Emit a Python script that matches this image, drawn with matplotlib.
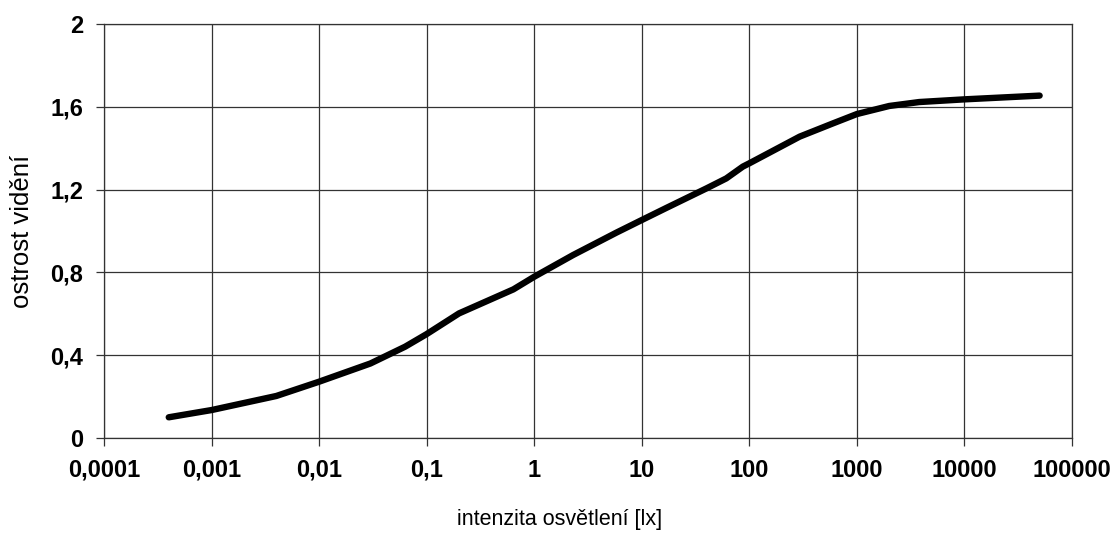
import matplotlib
matplotlib.use("Agg")
import matplotlib.pyplot as plt
from matplotlib.ticker import FixedLocator, NullLocator

# data
lux = [0.0004, 0.001, 0.004, 0.01, 0.03, 0.063, 0.1, 0.2, 0.64, 1, 2.3, 5.8,
       10, 17, 40, 61, 87, 100, 294, 600, 1000, 2000, 3800, 10000, 50000]
acuity = [0.10, 0.135, 0.203, 0.272, 0.36, 0.441, 0.502, 0.602, 0.718, 0.779,
          0.884, 0.992, 1.053, 1.112, 1.206, 1.254, 1.311, 1.327, 1.456, 1.52,
          1.565, 1.604, 1.623, 1.636, 1.654]
x_ticks = [1e-4, 1e-3, 1e-2, 1e-1, 1, 10, 100, 1000, 10000, 100000]
x_tick_labels = ["0,0001", "0,001", "0,01", "0,1", "1", "10", "100", "1000",
                 "10000", "100000"]
y_ticks = [0, 0.4, 0.8, 1.2, 1.6, 2]
y_tick_labels = ["0", "0,4", "0,8", "1,2", "1,6", "2"]

plt.rcParams['font.family'] = ['Liberation Sans', 'DejaVu Sans']

W, H = 1119, 538
fig = plt.figure(figsize=(W / 100, H / 100), dpi=100)
left, right, top, bottom = 104, 1072, 24, 438
ax = fig.add_axes([left / W, 1 - bottom / H, (right - left) / W, (bottom - top) / H])

ax.plot(lux, acuity, color='black', linewidth=4.6, solid_capstyle='round',
        solid_joinstyle='round', zorder=3)

ax.set_xscale('log')
ax.set_xlim(1e-4, 1e5)
ax.set_ylim(0, 2)
ax.xaxis.set_major_locator(FixedLocator(x_ticks))
ax.xaxis.set_minor_locator(NullLocator())
ax.set_xticks(x_ticks)
ax.set_xticklabels(x_tick_labels, fontsize=17, fontweight='bold')
ax.set_yticks(y_ticks)
ax.set_yticklabels(y_tick_labels, fontsize=17, fontweight='bold')

gc = '#333333'
ax.grid(True, color=gc, linewidth=0.9)
for s in ax.spines.values():
    s.set_color(gc)
    s.set_linewidth(0.9)
ax.tick_params(axis='both', direction='out', length=6, width=0.9, color=gc,
               pad=9)

fig.text(22 / W, 1 - 231 / H, "ostrost vidění", fontsize=18.5, rotation=90,
         ha='center', va='center')
fig.text(560 / W, 1 - 520 / H, "intenzita osvětlení [lx]", fontsize=15.5,
         ha='center', va='center')

fig.savefig("out.png", dpi=100, facecolor='white')
